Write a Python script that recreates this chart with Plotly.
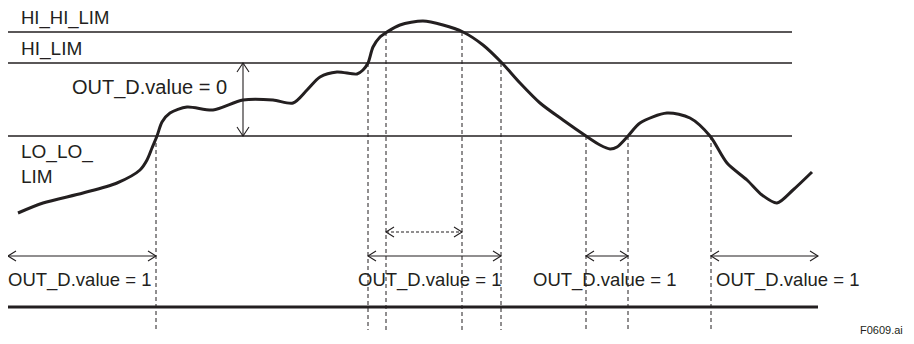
import plotly.graph_objects as go

# ---- data (diagram units: x = time position, y = signal level, screen-down) ----
curve_x = [18, 43, 83, 117, 140, 147, 152, 157, 162, 170, 187, 213, 243, 273, 293, 307, 320, 337,
           357, 363, 368, 373, 380, 387, 400, 423, 443, 463, 483, 502, 520, 540, 563, 586, 600,
           610, 617, 628, 640, 667, 690, 710, 727, 747, 762, 777, 793, 812]
curve_y = [213, 203, 193, 183, 170, 160, 148, 136, 122, 113, 107, 110, 100, 100, 103, 90, 77, 72,
           74, 70, 63, 47, 37, 32, 25, 21, 25, 32, 45, 63, 83, 103, 120, 136, 145,
           149, 147, 136, 123, 113, 118, 136, 163, 180, 195, 203, 190, 172]

limit_names = ["HI_HI_LIM", "HI_LIM", "LO_LO_LIM"]
limit_levels = [32, 63, 136]
limit_span = [8, 792]

cross_x = [156, 368, 386, 462, 501, 586, 628, 711]
cross_level = [136, 63, 32, 32, 63, 136, 136, 136]
dash_bottom = 330

out1_ranges = [(8, 156), (368, 501), (586, 628), (711, 818)]
out1_level = 256
hihi_range = (386, 462)
hihi_level = 232
out0_x = 243
out0_range = (63, 136)

out1_labels = ["OUT_D.value = 1"] * 4
out1_label_x = [8.5, 356, 531, 714]
out1_label_y = 280
out0_label = "OUT_D.value = 0"

bar_level = 307
bar_span = (8, 818)

INK = "#231f20"
FONT = "Liberation Sans, Arial, sans-serif"
PAGE_OFFSET = 8  # default body margin of the html page

fig = go.Figure()

def add_line(xs, ys, width=1.2, dash="solid", color=INK):
    fig.add_trace(go.Scatter(x=xs, y=ys, mode="lines", hoverinfo="skip",
                             line=dict(color=color, width=width, dash=dash), showlegend=False))

# threshold lines
for lv in limit_levels:
    add_line(limit_span, [lv, lv], width=1.3)

# dashed verticals
for cx, cl in zip(cross_x, cross_level):
    add_line([cx, cx], [cl, dash_bottom], width=1, dash="4px,3px")

# horizontal double arrows
def harrow(x0, x1, y, dash="solid"):
    add_line([x0, x1], [y, y], width=1.1, dash=dash)
    hx = [x0 + 8, x0, x0 + 8, None, x1 - 8, x1, x1 - 8]
    hy = [y - 5, y, y + 5, None, y - 5, y, y + 5]
    add_line(hx, hy, width=1.1)

for a, b in out1_ranges:
    harrow(a, b, out1_level)
harrow(hihi_range[0], hihi_range[1], hihi_level, dash="3px,2px")

# vertical double arrow
y0, y1 = out0_range
add_line([out0_x, out0_x], [y0, y1], width=1.1)
add_line([out0_x - 6, out0_x, out0_x + 6, None, out0_x - 6, out0_x, out0_x + 6],
         [y0 + 9, y0, y0 + 9, None, y1 - 9, y1, y1 - 9], width=1.1)

# bottom bar
add_line(list(bar_span), [bar_level, bar_level], width=3)

# signal curve
fig.add_trace(go.Scatter(x=curve_x, y=curve_y, mode="lines", hoverinfo="skip", showlegend=False,
                         line=dict(color=INK, width=3, shape="spline", smoothing=0.8)))

# labels
ann = []
def label(text, x, y, size=19, xanchor="left", xshift=0):
    ann.append(dict(text=text, x=x, y=y, xref="x", yref="y", showarrow=False,
                    xanchor=xanchor, yanchor="middle", align="left", xshift=xshift,
                    font=dict(family=FONT, size=size, color=INK)))

label(limit_names[0], 19, 18, size=18.5)
label(limit_names[1], 19, 49)
label("LO_LO_<br>LIM", 19, 164)
label(out0_label, 70, 87.5, size=20)
for i, (t, x) in enumerate(zip(out1_labels, out1_label_x)):
    label(t, x, out1_label_y, size=18.5, xshift=-2.5 if i == 0 else 0)
label("F0609.ai", 905, 330, size=11, xanchor="right")

W, H = 914, 344
fig.update_layout(
    width=W - 2 * PAGE_OFFSET, height=H - 2 * PAGE_OFFSET, margin=dict(l=0, r=0, t=0, b=0),
    paper_bgcolor="white", plot_bgcolor="white",
    xaxis=dict(range=[PAGE_OFFSET, W - PAGE_OFFSET], visible=False, fixedrange=True),
    yaxis=dict(range=[H - PAGE_OFFSET, PAGE_OFFSET], visible=False, fixedrange=True),
    annotations=ann, showlegend=False,
)

fig.write_html("out.html")
